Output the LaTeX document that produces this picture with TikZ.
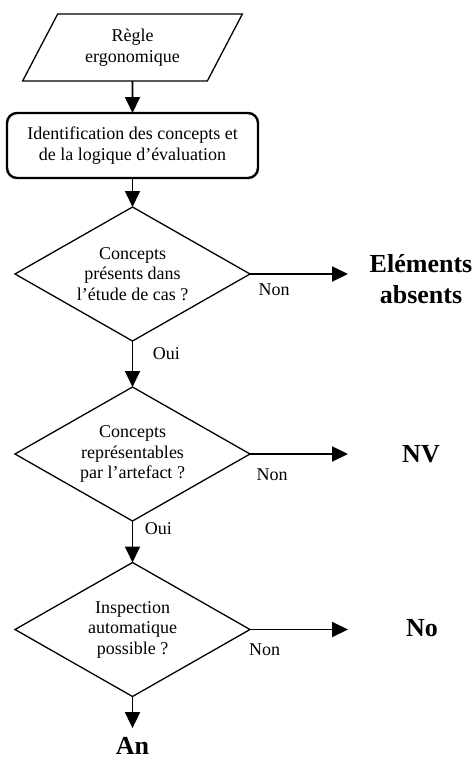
\documentclass[tikz,border=0pt]{standalone}
\usepackage{fontspec}
\setmainfont{Liberation Serif}
\usetikzlibrary{shapes.geometric, positioning, arrows.meta}

\begin{document}
\begin{tikzpicture}[x=1pt, y=-1pt, >={Triangle[length=16pt, width=15pt]},
    every node/.style={font=\fontsize{18}{20.5}\selectfont, align=center},
    rule/.style={trapezium, draw, line width=1.3pt, trapezium left angle=59, trapezium right angle=121,
        trapezium stretches=true, minimum width=220pt, minimum height=67pt, inner sep=0pt, outer sep=0pt},
    process/.style={rectangle, draw, rounded corners=10pt, line width=2.4pt,
        minimum width=251pt, minimum height=65pt, inner sep=0pt, outer sep=0pt},
    test/.style={diamond, draw, line width=1.3pt, shape aspect=1.75,
        minimum width=235pt, minimum height=134pt, inner sep=0pt, outer sep=0pt},
    result/.style={font=\fontsize{26}{31}\selectfont\bfseries, inner sep=2pt},
    answer/.style={inner sep=2pt},
    flow/.style={->, line width=1.8pt}]

  \useasboundingbox (0,0) rectangle (475,760);

  \node[rule] (rule) at (132.5,47.5) {Règle\\ergonomique};
  \node[process] (ident) [below=32pt of rule] {Identification des concepts et\\de la logique d’évaluation};
  \node[test] (present) [below=29pt of ident] {Concepts\\présents dans\\l’étude de cas ?};
  \node[test] (repr) [below=46pt of present] {Concepts\\représentables\\par l’artefact ?};
  \node[test] (auto) [below=41.5pt of repr] {Inspection\\automatique\\possible ?};

  % ends of the "Non" arrows
  \coordinate[right=98pt of present.east] (out1);
  \coordinate[right=98pt of repr.east] (out2);
  \coordinate[right=98pt of auto.east] (out3);

  % verdicts
  \node[result] (absent) at (421,278.7) {Eléments\\absents};
  \node[result] (nv) at (421,454.5) {NV};
  \node[result] (no) at (422,628.4) {No};
  \node[result] (an) [below=39pt of auto] {An};

  \path[flow]
    (rule) edge (ident)
    (ident) edge (present)
    (present) edge node[answer, pos=0.28, right=17.5pt] {Oui} (repr)
    (repr) edge node[answer, pos=0.18, right=9.5pt] {Oui} (auto)
    (auto) edge[shorten >=7.4pt] (an)
    (present) edge node[answer, pos=0.245, below=7pt] {Non} (out1)
    (repr) edge node[answer, pos=0.225, below=12pt] {Non} (out2)
    (auto) edge node[answer, pos=0.15, below=11.5pt] {Non} (out3);
\end{tikzpicture}
\end{document}
